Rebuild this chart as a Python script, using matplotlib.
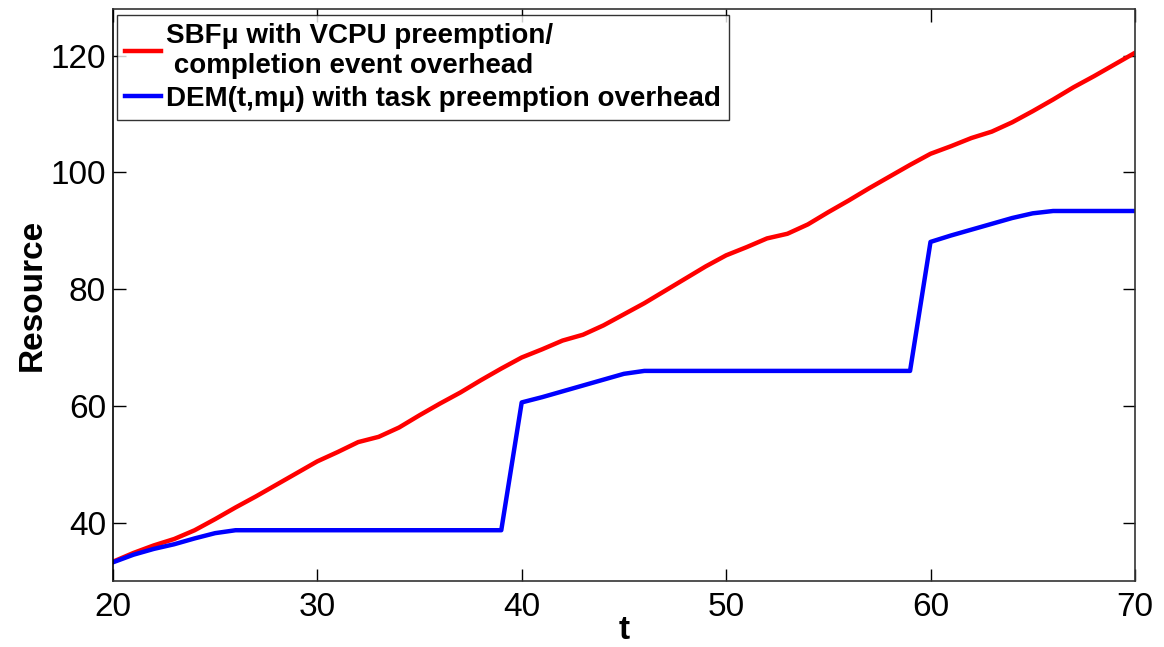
import numpy as np
import matplotlib
matplotlib.use("Agg")
import matplotlib.pyplot as plt

plt.rcParams['font.family'] = ['Liberation Sans', 'DejaVu Sans']

# time axis
t = list(range(20, 71))

# supply bound function with VCPU preemption / completion overhead
sbf = [33.3, 34.8, 36.1, 37.2, 38.7, 40.6, 42.6, 44.5, 46.5, 48.5,
       50.5, 52.1, 53.8, 54.7, 56.3, 58.4, 60.4, 62.3, 64.4, 66.4,
       68.3, 69.7, 71.2, 72.2, 73.8, 75.7, 77.6, 79.7, 81.8, 83.9,
       85.8, 87.2, 88.7, 89.5, 91.1, 93.2, 95.2, 97.3, 99.3, 101.3,
       103.2, 104.5, 105.9, 107.0, 108.6, 110.5, 112.5, 114.6, 116.5, 118.5,
       120.5]

# demand with task preemption overhead
dem = [33.2, 34.5, 35.5, 36.3, 37.3, 38.2, 38.7, 38.7, 38.7, 38.7,
       38.7, 38.7, 38.7, 38.7, 38.7, 38.7, 38.7, 38.7, 38.7, 38.7,
       60.6, 61.5, 62.5, 63.5, 64.5, 65.5, 66.0, 66.0, 66.0, 66.0,
       66.0, 66.0, 66.0, 66.0, 66.0, 66.0, 66.0, 66.0, 66.0, 66.0,
       88.1, 89.2, 90.2, 91.2, 92.2, 93.0, 93.4, 93.4, 93.4, 93.4,
       93.4]

xticks = [20, 30, 40, 50, 60, 70]
yticks = [40, 60, 80, 100, 120]

fig = plt.figure(figsize=(11.64, 6.47), dpi=100)
ax = fig.add_axes([0.097, 0.102, 0.878, 0.884])

ax.plot(t, sbf, color='#ff0000', lw=3.2,
        label='SBF\u03bc with VCPU preemption/\n completion event overhead')
ax.plot(t, dem, color='#0000ff', lw=3.2,
        label='DEM(t,m\u03bc) with task preemption overhead')

ax.set_xlim(20, 70)
ax.set_ylim(30, 128)
ax.set_xticks(xticks)
ax.set_yticks(yticks)
ax.tick_params(direction='in', length=9, width=1, labelsize=24,
               top=True, right=True, pad=5)
ax.tick_params(axis='x', pad=8)
for s in ax.spines.values():
    s.set_color('#333333')
    s.set_linewidth(1.2)
ax.spines['left'].set_color('black')

ax.set_xlabel('t', fontsize=24, fontweight='bold', labelpad=-6)
ax.set_ylabel('Resource', fontsize=24, fontweight='bold', labelpad=2)

leg = ax.legend(loc='upper left', bbox_to_anchor=(0.004, 0.99),
                prop={'weight': 'bold', 'size': 20}, frameon=True,
                fancybox=False, edgecolor='black', handlelength=1.3,
                handletextpad=0.15, borderpad=0.3, labelspacing=0.25,
                borderaxespad=0)
leg.get_frame().set_linewidth(1.0)

fig.savefig('out.png', dpi=100)
